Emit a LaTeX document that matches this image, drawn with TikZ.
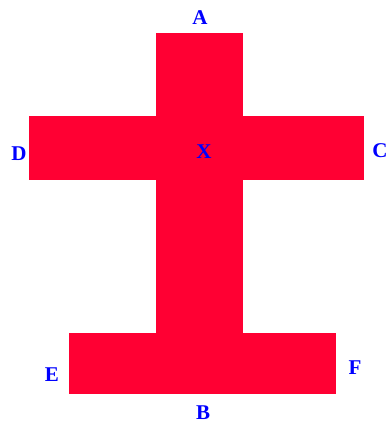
\documentclass[tikz,border=0pt]{standalone}
\usepackage{fontspec}
\setmainfont{Liberation Serif}
\definecolor{crossred}{HTML}{FF0033}
\definecolor{lblblue}{HTML}{0000FF}
\begin{document}
\begin{tikzpicture}[x=1pt,y=-1pt,
  bar/.style={fill=crossred,draw=none},
  lbl/.style={text=lblblue,font=\bfseries\fontsize{21}{21}\selectfont,inner sep=0pt,anchor=center}]
\useasboundingbox (0,0) rectangle (389,430);
\fill[bar] (155.5,33.5) rectangle (243,333);
\fill[bar] (29.3,116) rectangle (364,180);
\fill[bar] (69.3,332.7) rectangle (335.7,394.3);
\node[lbl] (A) at (200,18) {A};
\node[lbl] (D) at (19,154) {D};
\node[lbl] (C) at (380,151) {C};
\node[lbl] (X) at (204,152) {X};
\node[lbl] (E) at (52,375) {E};
\node[lbl] (F) at (355,368) {F};
\node[lbl] (B) at (203,413) {B};
\end{tikzpicture}
\end{document}
